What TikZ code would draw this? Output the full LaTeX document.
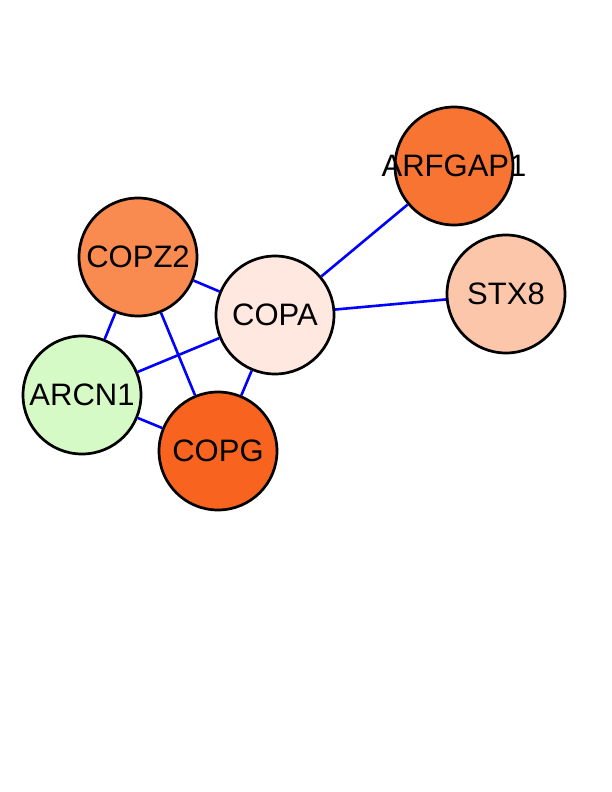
\documentclass[tikz,border=0pt]{standalone}
\usepackage{fontspec}
\setmainfont{Liberation Sans}
\usetikzlibrary{positioning}

\definecolor{copzcol}{HTML}{F98A50}
\definecolor{copacol}{HTML}{FEE8E0}
\definecolor{arcncol}{HTML}{D6FAC6}
\definecolor{copgcol}{HTML}{F86420}
\definecolor{arfcol}{HTML}{F87432}
\definecolor{stxcol}{HTML}{FCC6AA}

\tikzset{
    prot/.style={circle, draw=black, line width=2.7pt, minimum size=118pt, inner sep=0pt},
    lbl/.style={font=\fontsize{31}{37}\selectfont},
    link/.style={draw=blue, line width=2.6pt}
}

\begin{document}
\begin{tikzpicture}[x=1pt,y=-1pt]
    \useasboundingbox (0,0) rectangle (612,792);
    % proteins
    \node[prot, fill=arfcol, label={[lbl]center:ARFGAP1}] (arfgap1) at (454,166) {};
    \node[prot, fill=stxcol, label={[lbl]center:STX8}] (stx8) at (506,294) {};
    \node[prot, fill=copzcol, label={[lbl]center:COPZ2}] (copz2) at (138,257) {};
    \node[prot, fill=copacol, label={[lbl]center:COPA}] (copa) at (275,315) {};
    \node[prot, fill=arcncol, label={[lbl]center:ARCN1}] (arcn1) at (82,395) {};
    \node[prot, fill=copgcol, label={[lbl]center:COPG}] (copg) at (218,451) {};
    % interactions
    \draw[link] (copa) -- (arfgap1);
    \draw[link] (copa) -- (stx8);
    \draw[link] (copa) -- (copz2);
    \draw[link] (copa) -- (arcn1);
    \draw[link] (copa) -- (copg);
    \draw[link] (copz2) -- (arcn1);
    \draw[link] (copz2) -- (copg);
    \draw[link] (arcn1) -- (copg);
\end{tikzpicture}
\end{document}
